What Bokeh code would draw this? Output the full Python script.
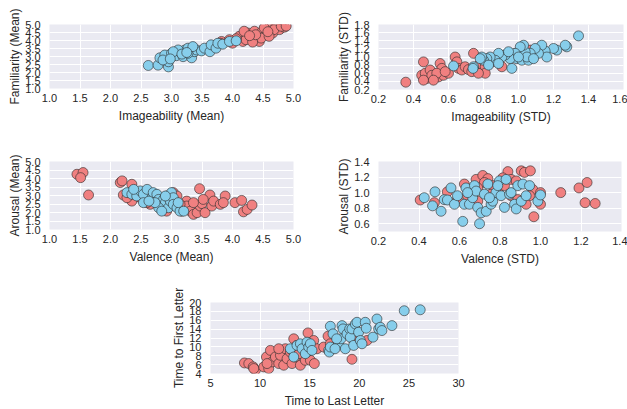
from bokeh.plotting import figure
from bokeh.layouts import column, row
from bokeh.models import FixedTicker, Spacer, Range1d, PrintfTickFormatter
from bokeh.embed import file_html
from bokeh.resources import INLINE

RED = "#F08080"
BLUE = "#87CEEB"
EDGE = "#2a2a2a"
BG = "#EAEAF2"
FONT = "Liberation Sans"
TXT = "#262626"

# ---------------- Panel 1: Imageability (Mean) vs Familiarity (Mean)
red_x1 = [3.82, 4.00, 4.11, 4.17, 4.25, 4.30, 4.36, 4.41, 4.44, 4.49, 4.55, 4.60, 4.66, 4.71, 4.77,
          4.85, 4.68, 4.47, 4.22, 4.33, 4.52, 4.38, 4.06, 4.19, 4.60, 4.80, 3.95, 4.88, 4.28, 4.58, 3.80]
red_y1 = [3.94, 3.83, 4.26, 3.94, 4.47, 4.15, 4.58, 4.26, 3.94, 4.58, 4.36, 4.79, 4.47, 4.89, 4.68,
          4.83, 4.68, 4.15, 4.05, 3.90, 4.79, 4.36, 4.11, 4.58, 4.26, 4.89, 4.05, 4.90, 4.30, 4.55, 3.83]
blue_x1 = [2.62, 2.78, 2.95, 2.95, 2.81, 2.89, 3.00, 3.08, 3.14, 3.22, 3.27, 3.19, 3.33, 3.38, 3.41, 3.49,
           3.54, 3.63, 3.65, 3.73, 3.76, 3.84, 3.95, 4.06, 3.11, 3.03, 2.86, 3.27, 3.35, 3.17, 3.25, 2.98]
blue_y1 = [2.44, 2.46, 2.35, 2.67, 2.92, 3.09, 3.20, 3.05, 3.30, 3.41, 3.52, 2.99, 2.92, 3.30, 3.41, 3.35,
           3.52, 3.30, 3.73, 3.52, 3.83, 3.77, 3.94, 3.98, 3.41, 3.30, 2.78, 3.20, 3.62, 3.15, 3.25, 2.85]

# ---------------- Panel 2: Imageability (STD) vs Familiarity (STD)
red_x2 = [0.356, 0.457, 0.447, 0.476, 0.467, 0.495, 0.505, 0.543, 0.552, 0.562, 0.571, 0.533, 0.638,
          0.648, 0.657, 0.676, 0.695, 0.714, 0.743, 0.762, 0.790, 0.781, 0.810, 0.848, 0.886, 0.905,
          0.600, 0.514, 0.457, 0.581, 0.733, 0.810, 1.057, 1.067, 0.981, 0.771]
red_y2 = [0.38, 0.88, 0.55, 0.47, 0.60, 0.68, 0.55, 0.51, 0.84, 0.72, 0.55, 0.60, 1.00,
          0.88, 0.72, 0.68, 0.76, 0.69, 1.09, 0.76, 0.64, 0.84, 0.76, 0.88, 0.92, 0.76,
          0.60, 0.43, 0.43, 0.64, 0.64, 0.60, 1.00, 1.17, 1.09, 0.60]
blue_x2 = [1.343, 1.276, 1.267, 1.219, 1.200, 1.152, 1.133, 1.162, 1.114, 1.095, 1.067, 1.038, 1.029,
           1.010, 0.981, 0.990, 1.019, 1.057, 0.962, 0.952, 0.924, 0.905, 0.886, 0.867, 0.838, 0.819,
           0.800, 0.790, 0.781, 0.829, 0.886, 0.743, 0.740, 0.629, 0.943, 1.048, 1.086, 1.000]
blue_y2 = [1.52, 1.25, 1.29, 1.17, 1.21, 1.15, 1.29, 1.00, 1.09, 1.21, 1.09, 1.13, 1.29,
           1.25, 1.09, 0.96, 0.92, 0.92, 0.72, 0.96, 1.05, 1.00, 1.09, 0.92, 1.00, 0.96,
           0.92, 1.00, 0.96, 0.80, 0.84, 0.76, 0.72, 0.78, 1.13, 1.00, 0.96, 1.00]

# ---------------- Panel 3: Valence (Mean) vs Arousal (Mean)
red_x3 = [1.45, 1.55, 1.51, 1.64, 2.16, 2.19, 2.35, 2.21, 2.35, 2.27, 3.03, 3.09, 3.25, 3.25, 3.31,
          3.36, 3.42, 3.47, 3.46, 3.50, 3.55, 3.63, 3.66, 3.69, 3.80, 3.88, 3.85, 4.04, 4.15, 4.18,
          4.24, 4.32, 3.17, 3.36, 3.14, 2.76, 2.65, 2.87, 2.98, 2.49, 2.92, 3.52, 2.60]
red_y3 = [4.25, 4.35, 4.05, 3.03, 3.76, 3.86, 3.66, 3.03, 2.67, 2.87, 3.17, 2.97, 2.67, 2.38, 2.08,
          1.89, 1.99, 2.38, 3.40, 2.52, 1.99, 3.03, 2.38, 2.67, 2.48, 2.97, 2.58, 2.58, 2.71, 2.04,
          2.18, 2.44, 2.08, 2.58, 2.48, 2.67, 2.48, 2.28, 2.38, 2.87, 2.08, 2.77, 2.58]
blue_x3 = [2.27, 2.35, 2.43, 2.49, 2.54, 2.60, 2.54, 2.68, 2.70, 2.76, 2.79, 2.81, 2.87, 2.90, 2.92,
           2.95, 2.98, 3.00, 3.03, 3.03, 3.09, 3.14, 3.20, 2.79, 2.73, 2.38, 2.63, 2.84, 2.90, 3.11]
blue_y3 = [3.17, 3.07, 2.97, 3.27, 3.07, 3.36, 2.58, 2.87, 3.17, 3.07, 2.77, 2.48, 2.77, 2.58, 2.97,
           2.28, 2.67, 3.17, 2.87, 2.48, 2.28, 2.08, 2.08, 2.28, 2.58, 3.36, 2.67, 2.08, 2.97, 2.58]

# ---------------- Panel 4: Valence (STD) vs Arousal (STD)
red_x4 = [0.406, 0.476, 0.540, 0.624, 0.682, 0.715, 0.740, 0.764, 0.789, 0.822, 0.839, 0.855, 0.880,
          0.905, 0.921, 0.950, 0.962, 0.946, 0.929, 0.967, 1.000, 1.000, 1.100, 1.190, 1.230, 1.220,
          1.270, 0.756, 0.640, 0.590, 0.690, 0.855, 0.723, 0.888, 0.814, 0.690]
red_y4 = [0.905, 0.87, 1.01, 1.11, 1.17, 1.22, 1.18, 1.09, 1.02, 1.09, 1.27, 1.17, 1.15,
          1.28, 1.26, 1.28, 1.04, 0.96, 0.85, 0.69, 0.85, 1.00, 1.00, 1.06, 1.13, 0.87,
          0.86, 0.98, 0.96, 0.91, 0.89, 0.96, 1.13, 0.91, 1.19, 1.06]
blue_x4 = [0.426, 0.467, 0.479, 0.509, 0.525, 0.540, 0.558, 0.575, 0.590, 0.616, 0.624, 0.632, 0.649,
           0.665, 0.674, 0.682, 0.690, 0.699, 0.707, 0.723, 0.732, 0.740, 0.756, 0.764, 0.780, 0.797,
           0.805, 0.822, 0.830, 0.847, 0.855, 0.872, 0.880, 0.888, 0.905, 0.913, 0.929, 0.946, 0.987,
           1.000, 0.640, 0.789, 0.748]
blue_y4 = [0.935, 0.83, 1.01, 0.76, 0.91, 0.905, 1.06, 0.85, 0.96, 0.63, 0.85, 1.06, 0.85,
           0.935, 1.09, 1.02, 0.81, 0.60, 0.74, 0.98, 0.76, 1.11, 0.85, 0.89, 1.00, 1.15,
           0.96, 0.81, 1.17, 0.98, 1.00, 0.85, 0.79, 1.09, 0.89, 1.11, 0.96, 1.09, 0.89,
           0.97, 1.00, 1.09, 0.935]

# ---------------- Panel 5: Time to Last Letter vs Time to First Letter
red_x5 = [8.42, 8.86, 9.30, 9.53, 9.36, 10.37, 10.64, 10.87, 11.04, 11.21, 11.54, 11.88, 12.05, 12.38,
          12.55, 12.72, 13.05, 13.22, 13.39, 13.56, 13.72, 14.06, 14.23, 14.56, 14.83, 15.07, 15.40,
          15.47, 15.74, 16.41, 16.85, 17.08, 19.26, 19.43, 20.77, 13.22, 13.89, 11.88, 14.73, 10.70]
red_y5 = [6.38, 6.24, 5.49, 4.75, 5.12, 5.49, 7.72, 5.12, 9.21, 6.61, 7.72, 6.24, 8.10, 5.86,
          9.58, 7.35, 8.84, 6.24, 11.82, 7.72, 10.33, 5.86, 8.84, 6.98, 13.15, 6.98, 11.44,
          6.24, 9.58, 9.96, 12.41, 10.70, 7.20, 11.44, 11.44, 9.21, 8.47, 9.58, 8.84, 6.24]
blue_x5 = [13.05, 13.39, 13.72, 14.06, 14.23, 14.56, 14.73, 14.90, 15.07, 15.23, 16.91, 16.98, 17.08,
           17.08, 17.35, 17.92, 18.15, 18.26, 18.36, 18.59, 18.76, 19.03, 19.09, 19.26, 19.43, 19.60,
           19.77, 19.93, 20.10, 20.27, 20.60, 20.70, 21.38, 21.78, 21.95, 22.11, 22.28, 23.29, 24.53,
           26.14, 17.72, 17.55]
blue_y5 = [9.58, 7.72, 10.33, 10.70, 9.58, 8.47, 11.07, 9.96, 10.70, 9.21, 9.21, 8.84, 14.64,
           9.96, 12.93, 10.70, 11.82, 14.79, 14.05, 9.58, 12.93, 14.05, 12.19, 14.05, 10.33, 15.16,
           15.54, 13.30, 11.44, 10.70, 15.54, 14.20, 12.19, 16.28, 14.05, 14.42, 13.68, 14.79, 18.14,
           18.36, 11.82, 9.58]

# ---------------- ticks
ticks_mean = [1.0, 1.5, 2.0, 2.5, 3.0, 3.5, 4.0, 4.5, 5.0]
ticks_img_std_x = [0.2, 0.4, 0.6, 0.8, 1.0, 1.2, 1.4, 1.6]
ticks_fam_std_y = [0.2, 0.4, 0.6, 0.8, 1.0, 1.2, 1.4, 1.6, 1.8]
ticks_val_std_x = [0.2, 0.4, 0.6, 0.8, 1.0, 1.2, 1.4]
ticks_aro_std_y = [0.6, 0.8, 1.0, 1.2, 1.4]
ticks_last_x = [5, 10, 15, 20, 25, 30]
ticks_first_y = [4, 6, 8, 10, 12, 14, 16, 18, 20]


def panel(xlabel, ylabel, xr, yr, xt, yt, fw, fh, bl, br, bt, bb, fmt_x, fmt_y,
          rx, ry, bx, by):
    p = figure(frame_width=fw, frame_height=fh,
               x_range=Range1d(*xr), y_range=Range1d(*yr),
               output_backend="svg", toolbar_location=None,
               min_border_left=bl, min_border_right=br,
               min_border_top=bt, min_border_bottom=bb,
               background_fill_color=BG, border_fill_color="white",
               outline_line_color=None)
    p.xaxis.ticker = FixedTicker(ticks=xt)
    p.yaxis.ticker = FixedTicker(ticks=yt)
    p.xaxis.formatter = PrintfTickFormatter(format=fmt_x)
    p.yaxis.formatter = PrintfTickFormatter(format=fmt_y)
    p.xaxis.axis_label = xlabel
    p.yaxis.axis_label = ylabel
    for ax in p.axis:
        ax.axis_line_color = None
        ax.major_tick_line_color = None
        ax.minor_tick_line_color = None
        ax.major_tick_out = 0
        ax.major_tick_in = 0
        ax.major_label_text_font = FONT
        ax.major_label_text_font_size = "11px"
        ax.major_label_text_color = TXT
        ax.axis_label_text_font = FONT
        ax.axis_label_text_font_size = "12px"
        ax.axis_label_text_font_style = "normal"
        ax.axis_label_text_color = TXT
    p.xaxis.major_label_standoff = 5
    p.xaxis.axis_label_standoff = 4
    p.yaxis.major_label_standoff = 9
    p.yaxis.axis_label_standoff = 0
    for g in p.grid:
        g.grid_line_color = "white"
        g.grid_line_width = 1
    p.scatter(rx, ry, size=10, fill_color=RED, line_color=EDGE, line_width=0.6)
    p.scatter(bx, by, size=10, fill_color=BLUE, line_color=EDGE, line_width=0.6)
    return p


p1 = panel("Imageability (Mean)", "Familiarity (Mean)", (1.0, 5.0), (1.0, 5.0),
           ticks_mean, ticks_mean, 244, 64, 49, 17, 24, 52, "%.1f", "%.1f",
           red_x1, red_y1, blue_x1, blue_y1)
p2 = panel("Imageability (STD)", "Familiarity (STD)", (0.2, 1.6), (0.2, 1.8),
           ticks_img_std_x, ticks_fam_std_y, 245, 65, 68, 4, 22, 53, "%.1f", "%.1f",
           red_x2, red_y2, blue_x2, blue_y2)
p3 = panel("Valence (Mean)", "Arousal (Mean)", (1.0, 5.0), (1.0, 5.0),
           ticks_mean, ticks_mean, 244, 68, 49, 17, 21, 56, "%.1f", "%.1f",
           red_x3, red_y3, blue_x3, blue_y3)
p4 = panel("Valence (STD)", "Arousal (STD)", (0.2, 1.4), (0.5, 1.4),
           ticks_val_std_x, ticks_aro_std_y, 243, 70, 68, 6, 19, 56, "%.1f", "%.1f",
           red_x4, red_y4, blue_x4, blue_y4)
p5 = panel("Time to Last Letter", "Time to First Letter", (5, 30), (4, 20),
           ticks_last_x, ticks_first_y, 248, 71, 60, 12, 17, 34, "%d", "%d",
           red_x5, red_y5, blue_x5, blue_y5)

layout = column(row(p1, p2), row(p3, p4), row(Spacer(width=150, height=10), p5))

open("out.html", "w").write(file_html(layout, INLINE))
